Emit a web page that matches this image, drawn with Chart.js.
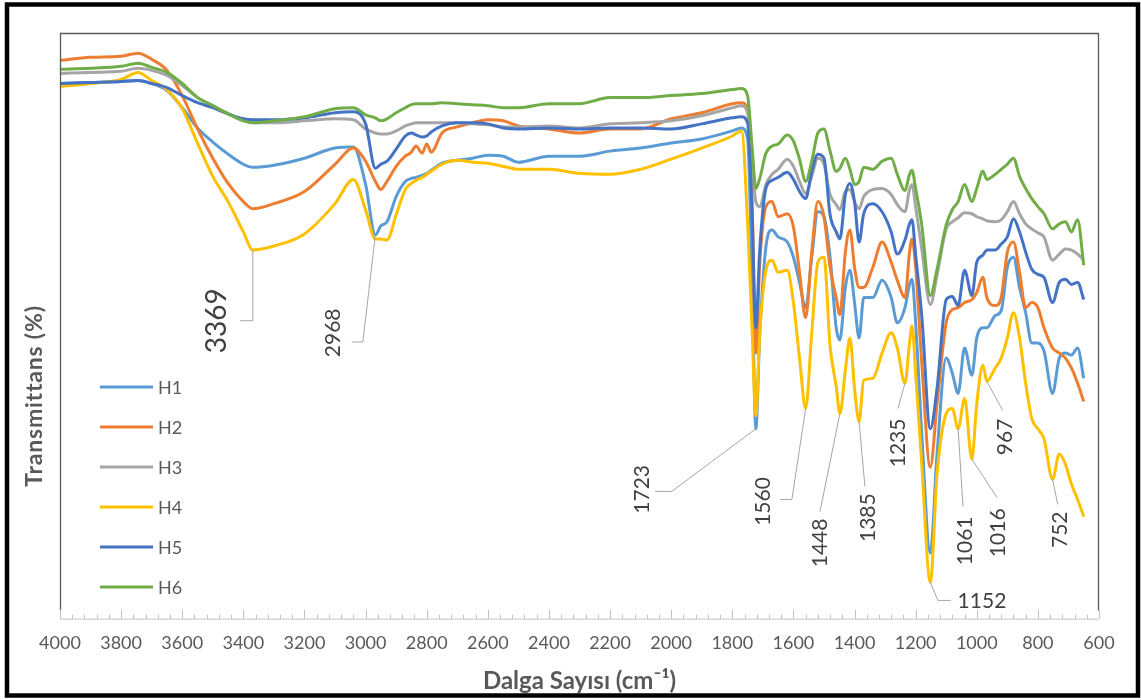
<!DOCTYPE html>
<html>
<head>
<meta charset="utf-8">
<script src="https://cdn.jsdelivr.net/npm/chart.js@4.4.1/dist/chart.umd.min.js"></script>
<style>
  html, body { margin: 0; padding: 0; background: #fff; }
  #wrap { position: relative; width: 1141px; height: 700px; }
</style>
</head>
<body>
<div id="wrap"><canvas id="ftir" width="1141" height="700"></canvas></div>
<script>
// wavenumbers (cm-1), shared by all six spectra
const wavenumbers = [
  4000, 3900, 3800, 3745, 3700, 3650, 3600, 3550, 3500, 3450,
  3400, 3369, 3300, 3200, 3100, 3040, 3000, 2968, 2950, 2930,
  2900, 2870, 2850, 2835, 2815, 2800, 2785, 2750, 2700, 2650,
  2600, 2550, 2500, 2400, 2300, 2200, 2100, 2000, 1900, 1800,
  1770, 1750, 1735, 1723, 1710, 1690, 1670, 1650, 1620, 1600,
  1580, 1560, 1540, 1520, 1500, 1480, 1460, 1448, 1430, 1415,
  1400, 1385, 1370, 1340, 1310, 1280, 1260, 1235, 1220, 1212,
  1200, 1180, 1152, 1130, 1100, 1080, 1061, 1040, 1016, 1000,
  980, 967, 940, 920, 900, 880, 860, 840, 820, 800,
  780, 752, 730, 710, 690, 670, 650
];

const h1Values = [
  53.0, 53.1, 53.2, 53.3, 53.0, 52.3, 50.6, 48.6, 47.2, 46.0,
  45.0, 44.7, 44.9, 45.6, 46.6, 46.7, 43.0, 38.0, 38.9, 39.3,
  41.8, 43.3, 43.6, 43.7, 43.9, 44.1, 44.4, 45.1, 45.4, 45.6,
  45.9, 45.8, 45.2, 45.8, 45.8, 46.3, 46.6, 47.1, 47.5, 48.3,
  48.6, 47.5, 33.3, 18.8, 28.3, 36.8, 38.5, 37.8, 37.3, 35.8,
  33.3, 30.8, 35.8, 40.3, 39.8, 35.8, 28.8, 27.6, 32.8, 34.5,
  31.3, 27.8, 31.8, 31.8, 33.5, 31.8, 29.3, 30.8, 33.1, 33.6,
  29.3, 18.3, 6.5, 16.3, 25.8, 24.3, 22.3, 26.8, 24.1, 27.8,
  28.8, 28.8, 30.0, 30.5, 34.8, 35.8, 32.8, 30.3, 27.3, 27.3,
  26.5, 22.3, 25.8, 26.3, 26.1, 26.8, 23.8
];
const h2Values = [
  55.3, 55.6, 55.7, 56.0, 55.4, 54.3, 51.8, 48.5, 45.6, 43.1,
  41.3, 40.6, 41.1, 42.3, 45.0, 46.6, 45.3, 43.3, 42.5, 43.3,
  44.8, 45.8, 46.2, 46.8, 46.1, 47.0, 46.2, 48.1, 48.7, 49.1,
  49.4, 49.3, 48.8, 48.5, 48.1, 48.5, 48.5, 49.5, 50.1, 51.0,
  51.1, 50.5, 41.3, 26.3, 35.3, 40.8, 41.3, 39.8, 40.1, 38.8,
  34.3, 29.8, 36.3, 41.3, 39.8, 34.8, 31.8, 30.1, 36.3, 38.5,
  34.8, 32.8, 32.8, 34.8, 37.3, 35.3, 33.5, 31.8, 36.3, 37.6,
  34.8, 25.3, 15.0, 21.3, 29.3, 30.6, 30.8, 31.3, 31.6, 32.3,
  33.8, 31.8, 31.0, 31.8, 36.3, 37.3, 34.3, 30.8, 31.3, 30.8,
  28.8, 26.8, 26.3, 25.8, 24.8, 23.3, 21.5
];
const h3Values = [
  54.0, 54.1, 54.2, 54.5, 54.3, 53.8, 52.8, 51.6, 50.8, 50.0,
  49.4, 49.1, 49.1, 49.3, 49.5, 49.4, 48.5, 48.1, 48.0, 48.0,
  48.3, 48.8, 49.0, 49.1, 49.1, 49.1, 49.1, 49.1, 49.1, 49.0,
  48.9, 48.7, 48.7, 48.8, 48.6, 49.0, 49.1, 49.3, 49.8, 50.6,
  50.8, 50.1, 45.0, 41.3, 40.8, 43.0, 44.0, 44.5, 45.5, 44.8,
  43.3, 42.1, 43.8, 45.6, 45.0, 42.0, 41.0, 40.5, 42.3, 42.5,
  41.3, 40.6, 41.8, 42.5, 42.6, 42.0, 41.0, 40.3, 42.5, 43.0,
  40.8, 36.6, 31.1, 34.0, 38.6, 39.3, 39.7, 40.2, 40.1, 39.8,
  39.6, 39.4, 39.3, 39.5, 40.3, 41.3, 40.1, 39.1, 38.6, 38.2,
  37.8, 35.5, 36.1, 36.6, 36.5, 36.1, 35.5
];
const h4Values = [
  52.7, 53.0, 53.4, 54.1, 53.3, 52.4, 50.5, 47.1, 43.8, 41.3,
  38.3, 36.5, 36.9, 38.1, 41.1, 43.5, 40.5, 37.6, 37.6, 37.5,
  40.0, 42.5, 43.1, 43.4, 43.7, 44.0, 44.3, 45.0, 45.4, 45.2,
  45.1, 44.8, 44.5, 44.5, 44.1, 44.0, 44.5, 45.5, 46.6, 47.8,
  48.3, 39.3, 28.3, 20.1, 28.3, 34.5, 35.5, 34.3, 34.5, 31.3,
  25.8, 20.8, 28.3, 35.3, 35.8, 27.0, 23.0, 20.3, 24.6, 27.8,
  22.8, 19.5, 23.6, 23.8, 26.3, 28.3, 26.8, 23.3, 27.3, 29.0,
  24.3, 15.3, 3.6, 14.3, 20.3, 20.8, 18.8, 21.8, 15.8, 21.3,
  25.1, 23.5, 24.8, 25.8, 27.8, 30.3, 27.8, 23.3, 19.8, 18.8,
  17.8, 13.8, 16.3, 15.3, 13.3, 11.8, 10.1
];
const h5Values = [
  53.0, 53.1, 53.2, 53.3, 53.0, 52.6, 51.8, 51.1, 50.6, 50.0,
  49.5, 49.4, 49.4, 49.6, 50.1, 50.2, 49.0, 44.6, 45.0, 45.3,
  46.5, 47.8, 48.1, 47.9, 47.7, 47.8, 48.2, 48.8, 49.1, 49.1,
  49.0, 48.6, 48.5, 48.6, 48.5, 48.6, 48.6, 48.5, 49.0, 49.6,
  49.7, 49.1, 40.0, 28.8, 36.6, 42.6, 43.4, 43.7, 44.2, 43.5,
  42.3, 41.6, 44.3, 46.0, 45.6, 40.0, 38.3, 37.6, 42.0, 43.1,
  41.3, 37.3, 40.1, 41.1, 40.3, 38.3, 36.1, 37.5, 39.1, 39.5,
  36.0, 30.0, 18.8, 22.8, 31.6, 31.9, 31.0, 34.5, 32.0, 35.3,
  36.0, 36.5, 36.5, 37.1, 37.8, 39.6, 38.3, 36.3, 34.6, 34.1,
  33.8, 31.3, 33.3, 33.6, 33.1, 33.3, 31.6
];
const h6Values = [
  54.4, 54.5, 54.7, 55.0, 54.6, 54.1, 53.0, 51.6, 50.8, 50.0,
  49.3, 49.1, 49.3, 49.7, 50.5, 50.6, 49.9, 49.6, 49.3, 49.5,
  50.1, 50.6, 50.9, 51.0, 51.0, 51.0, 51.0, 51.1, 51.0, 50.9,
  50.8, 50.6, 50.6, 51.0, 51.0, 51.6, 51.6, 51.8, 52.0, 52.4,
  52.5, 51.8, 46.6, 42.6, 43.6, 46.1, 46.8, 47.0, 47.9, 47.3,
  45.5, 43.3, 45.3, 48.1, 48.5, 46.3, 44.3, 44.6, 45.6, 44.5,
  43.0, 43.3, 44.7, 44.5, 45.3, 45.6, 44.0, 42.4, 44.0, 44.4,
  42.6, 39.0, 32.0, 34.6, 39.0, 40.5, 41.3, 43.0, 41.3, 42.6,
  44.3, 43.5, 44.0, 44.5, 45.0, 45.6, 43.8, 42.6, 41.6, 40.8,
  40.1, 38.6, 39.1, 39.3, 38.3, 39.5, 35.0
];

const seriesNames = ["H1", "H2", "H3", "H4", "H5", "H6"];
const seriesColors = ["#5B9BD5", "#ED7D31", "#A5A5A5", "#FFC000", "#4472C4", "#70AD47"];
const seriesValues = [h1Values, h2Values, h3Values, h4Values, h5Values, h6Values];

const xMin = 600, xMax = 4000, xStep = 200, xMinorStep = 40;
const yMin = 0, yMax = 58;

// peak annotations: label, which series the leader points at, label centre (cm-1, value),
// leader bend points (cm-1, value), rotated text or not, font size
const peakLabels  = ["3369", "2968", "1723", "1560", "1448", "1385", "1235", "1152", "1061", "1016", "967", "752"];
const peakSeries  = [3, 0, 0, 3, 3, 3, 3, 3, 3, 3, 3, 3];
const peakLabelAt = [[3486, 29.5], [3107, 28.3], [2096, 12.8], [1700, 11.6], [1513, 7.5], [1356, 10.0],
                     [1258, 17.4], [983, 1.7], [1039, 7.7], [931, 8.5], [908, 18.0], [728, 8.8]];
const peakLeaders = [
  [[3411, 29.5], [3369, 29.5]],
  [[3045, 27.4], [3009, 27.4]],
  [[2053, 12.6], [1998, 12.6]],
  [[1644, 11.8], [1605, 11.8]],
  [[1513, 10.6]],
  [[1366, 13.1]],
  [[1258, 20.8]],
  [[1085, 1.8], [1127, 1.8]],
  [[1045, 11.1]],
  [[934, 12.0]],
  [[915, 20.6]],
  [[735, 11.3]]
];
const peakRotated = [true, true, true, true, true, true, true, false, true, true, true, true];
const peakFontSize = [28, 21, 21, 21, 21, 21, 21, 21, 21, 21, 21, 21];

const FONT = "Lato, 'Open Sans', sans-serif";

const decorPlugin = {
  id: "decor",
  beforeDraw(chart) {
    const ctx = chart.ctx;
    ctx.save();
    ctx.fillStyle = "#ffffff";
    ctx.fillRect(0, 0, chart.width, chart.height);
    ctx.restore();
  },
  afterDatasetsDraw(chart) {
    const ctx = chart.ctx;
    const x = chart.scales.x, y = chart.scales.y;
    ctx.save();
    peakLabels.forEach((text, i) => {
      const k = wavenumbers.indexOf(Number(text));
      const tx = x.getPixelForValue(wavenumbers[k]);
      const ty = y.getPixelForValue(seriesValues[peakSeries[i]][k]);
      const pts = peakLeaders[i].map(p => [x.getPixelForValue(p[0]), y.getPixelForValue(p[1])]);
      ctx.strokeStyle = "#A6A6A6";
      ctx.lineWidth = 1;
      ctx.beginPath();
      ctx.moveTo(pts[0][0], pts[0][1]);
      for (let j = 1; j < pts.length; j++) ctx.lineTo(pts[j][0], pts[j][1]);
      ctx.lineTo(tx, ty);
      ctx.stroke();

      const lx = x.getPixelForValue(peakLabelAt[i][0]);
      const ly = y.getPixelForValue(peakLabelAt[i][1]);
      ctx.save();
      ctx.translate(lx, ly);
      if (peakRotated[i]) ctx.rotate(-Math.PI / 2);
      ctx.font = peakFontSize[i] + "px " + FONT;
      ctx.fillStyle = "#404040";
      ctx.textAlign = "center";
      ctx.textBaseline = "middle";
      ctx.fillText(text, 0, 0);
      ctx.restore();
    });
    ctx.restore();
  },
  afterDraw(chart) {
    const ctx = chart.ctx;
    const area = chart.chartArea;
    const x = chart.scales.x;
    ctx.save();

    // plot area frame (left, top, right)
    ctx.strokeStyle = "#595959";
    ctx.lineWidth = 1.3;
    ctx.beginPath();
    ctx.moveTo(area.left + 0.5, area.bottom - 8);
    ctx.lineTo(area.left + 0.5, area.top + 0.5);
    ctx.lineTo(area.right - 0.5, area.top + 0.5);
    ctx.lineTo(area.right - 0.5, area.bottom - 8);
    ctx.stroke();

    // x axis line with inside ticks
    ctx.strokeStyle = "#BFBFBF";
    ctx.lineWidth = 1;
    ctx.beginPath();
    ctx.moveTo(area.left, area.bottom + 0.5);
    ctx.lineTo(area.right, area.bottom + 0.5);
    for (let w = xMin; w <= xMax; w += xMinorStep) {
      const px = Math.round(x.getPixelForValue(w)) + 0.5;
      const len = (w % xStep === 0) ? 9 : 4;
      ctx.moveTo(px, area.bottom);
      ctx.lineTo(px, area.bottom - len);
    }
    ctx.stroke();

    // y axis title
    ctx.save();
    ctx.translate(35, 396);
    ctx.rotate(-Math.PI / 2);
    ctx.font = "bold 23px " + FONT;
    ctx.letterSpacing = "0.8px";
    ctx.fillStyle = "#595959";
    ctx.textAlign = "center";
    ctx.textBaseline = "middle";
    ctx.fillText("Transmittans (%)", 0, 0);
    ctx.restore();

    // legend inside the plot, one row per sample
    ctx.font = "18px " + FONT;
    ctx.textBaseline = "middle";
    ctx.textAlign = "left";
    seriesNames.forEach((name, i) => {
      const rowY = 387 + i * 40;
      ctx.strokeStyle = seriesColors[i];
      ctx.lineWidth = 3;
      ctx.beginPath();
      ctx.moveTo(area.left + 40, rowY);
      ctx.lineTo(area.left + 93, rowY);
      ctx.stroke();
      ctx.fillStyle = "#595959";
      ctx.fillText(name, area.left + 98, rowY + 1);
    });

    // outer black frame
    ctx.strokeStyle = "#000000";
    ctx.lineWidth = 4.5;
    ctx.strokeRect(7, 4.5, 1131, 691);
    ctx.restore();
  }
};

Chart.defaults.font.family = FONT;

new Chart(document.getElementById("ftir"), {
  type: "line",
  data: {
    datasets: seriesNames.map((name, i) => ({
      label: name,
      data: wavenumbers.map((w, k) => ({ x: w, y: seriesValues[i][k] })),
      borderColor: seriesColors[i],
      backgroundColor: seriesColors[i],
      borderWidth: 3,
      pointRadius: 0,
      fill: false,
      cubicInterpolationMode: "monotone",
      order: seriesNames.length - i
    }))
  },
  options: {
    responsive: false,
    animation: false,
    devicePixelRatio: 1,
    layout: { padding: { left: 60, right: 42, top: 33, bottom: 4 } },
    plugins: {
      legend: { display: false },
      tooltip: { enabled: false }
    },
    scales: {
      x: {
        type: "linear",
        min: xMin,
        max: xMax,
        reverse: true,
        grid: { display: false },
        border: { display: false },
        ticks: {
          stepSize: xStep,
          autoSkip: false,
          maxRotation: 0,
          padding: 6,
          color: "#595959",
          font: { size: 18 },
          callback: v => String(v)
        },
        title: {
          display: true,
          text: "Dalga Sayısı (cm⁻¹)",
          color: "#595959",
          font: { size: 24, weight: "bold" },
          padding: { top: 7, bottom: 0 }
        }
      },
      y: {
        type: "linear",
        min: yMin,
        max: yMax,
        display: false
      }
    }
  },
  plugins: [decorPlugin]
});
</script>
</body>
</html>
